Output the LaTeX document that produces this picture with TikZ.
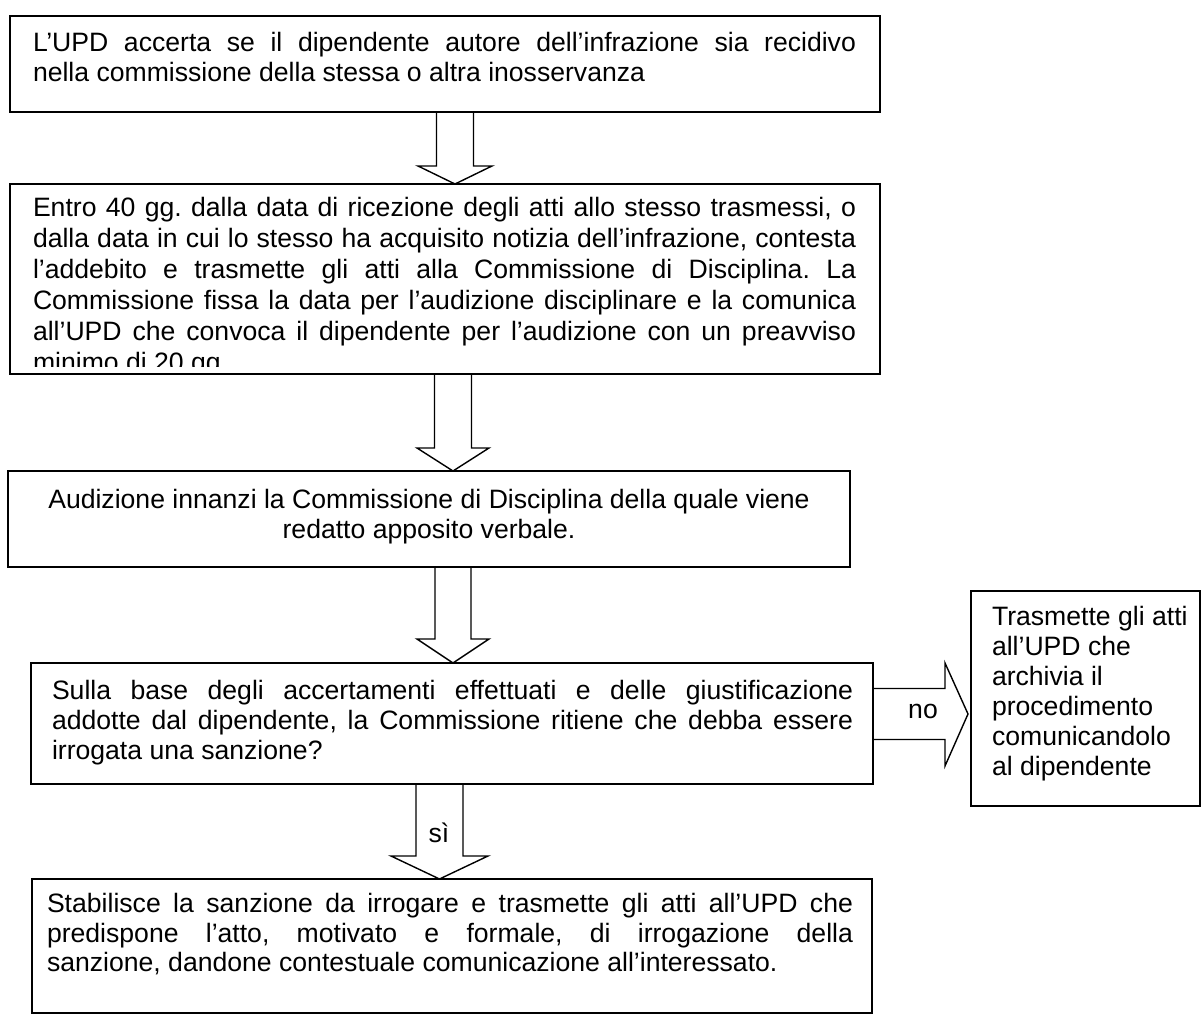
\documentclass[tikz,border=0pt]{standalone}
\usepackage{fontspec}
\setmainfont{Liberation Sans}
\usetikzlibrary{calc}
\frenchspacing
\tikzset{
  box/.style={draw, line width=1.8pt, inner sep=0pt, outer sep=0pt, anchor=north west},
  txt/.style={anchor=base west, inner sep=0pt, outer sep=0pt},
  ctxt/.style={anchor=base, inner sep=0pt, outer sep=0pt},
  blk/.style={draw, line width=1.4pt, line join=miter},
}
% vertical block arrow: from node #1 (south) to node #2 (north), centre x #3,
% half shaft width #4, half head width #5, head length #6
\newcommand\blkdown[6]{%
  \draw[blk] let \p1=(#1.south), \p2=(#2.north) in
    ({(#3-#4)*1pt},\y1) -- ({(#3-#4)*1pt},{\y2+#6*1pt}) -- ({(#3-#5)*1pt},{\y2+#6*1pt})
    -- ({#3*1pt},\y2) -- ({(#3+#5)*1pt},{\y2+#6*1pt}) -- ({(#3+#4)*1pt},{\y2+#6*1pt})
    -- ({(#3+#4)*1pt},\y1);}
\begin{document}
\begin{tikzpicture}[x=1pt,y=-1pt, every node/.style={font=\fontsize{26.6}{30.5}\selectfont\frenchspacing}]
\useasboundingbox[fill=white] (0,0) rectangle (1203,1016);

% boxes
\node[box, minimum width=870, minimum height=96]  (b1) at (10,16) {};
\node[box, minimum width=870, minimum height=190] (b2) at (10,184) {};
\node[box, minimum width=842, minimum height=96]  (b3) at (8,471) {};
\node[box, minimum width=842, minimum height=121] (b4) at (31,663) {};
\node[box, minimum width=840, minimum height=134] (b5) at (32,879) {};
\node[box, minimum width=229, minimum height=215] (b6) at (971,591) {};

% box 1 text
\node[txt] (t1a) at (33,52) {\makebox[823pt][s]{L’UPD accerta se il dipendente autore dell’infrazione sia recidivo}};
\node[txt] (t1b) at (33,82) {nella commissione della stessa o altra inosservanza};

% box 2 text (last line cut by the box)
\begin{scope}
\clip (10,184) rectangle (880,367);
\node[txt] (t2a) at (33,217) {\makebox[823pt][s]{Entro 40 gg. dalla data di ricezione degli atti allo stesso trasmessi, o}};
\node[txt] (t2b) at (33,248) {\makebox[823pt][s]{dalla data in cui lo stesso ha acquisito notizia dell’infrazione, contesta}};
\node[txt] (t2c) at (33,279) {\makebox[823pt][s]{l’addebito e trasmette gli atti alla Commissione di Disciplina. La}};
\node[txt] (t2d) at (33,310) {\makebox[823pt][s]{Commissione fissa la data per l’audizione disciplinare e la comunica}};
\node[txt] (t2e) at (33,341) {\makebox[823pt][s]{all’UPD che convoca il dipendente per l’audizione con un preavviso}};
\node[txt] (t2f) at (33,372) {minimo di 20 gg.};
\end{scope}

% box 3 text
\node[ctxt] (t3a) at (429,508) {Audizione innanzi la Commissione di Disciplina della quale viene};
\node[ctxt] (t3b) at (429,538) {redatto apposito verbale.};

% box 4 text
\node[txt] (t4a) at (52,699) {\makebox[801pt][s]{Sulla base degli accertamenti effettuati e delle giustificazione}};
\node[txt] (t4b) at (52,729) {\makebox[801pt][s]{addotte dal dipendente, la Commissione ritiene che debba essere}};
\node[txt] (t4c) at (52,759) {irrogata una sanzione?};

% box 5 text
\node[txt] (t5a) at (47,912) {\makebox[806pt][s]{Stabilisce la sanzione da irrogare e trasmette gli atti all’UPD che}};
\node[txt] (t5b) at (47,942) {\makebox[806pt][s]{predispone l’atto, motivato e formale, di irrogazione della}};
\node[txt] (t5c) at (47,971) {sanzione, dandone contestuale comunicazione all’interessato.};

% right box text
\node[txt] (t6a) at (992,625) {Trasmette gli atti};
\node[txt] (t6b) at (992,655) {all’UPD che};
\node[txt] (t6c) at (992,685) {archivia il};
\node[txt] (t6d) at (992,715) {procedimento};
\node[txt] (t6e) at (992,745) {comunicandolo};
\node[txt] (t6f) at (992,775) {al dipendente};

% block arrows
\blkdown{b1}{b2}{455}{18.5}{37}{18}
\blkdown{b2}{b3}{453}{18.5}{36}{23}
\blkdown{b3}{b4}{453}{18}{36}{24}
\blkdown{b4}{b5}{439.5}{23.5}{48.5}{23}

\coordinate (nomid) at (0,714);
\draw[blk] let \p1=(b4.east), \p2=(b6.west), \p3=(nomid) in
  (\x1,{\y3+25.5pt}) -- ({\x2-26pt},{\y3+25.5pt}) -- ({\x2-26pt},{\y3+51pt})
  -- ({\x2-3pt},\y3) -- ({\x2-26pt},{\y3-52pt}) -- ({\x2-26pt},{\y3-25.5pt})
  -- (\x1,{\y3-25.5pt});

% arrow labels
\node[ctxt] (si) at (439,842) {sì};
\node[ctxt] (no) at (923,718) {no};
\end{tikzpicture}
\end{document}
